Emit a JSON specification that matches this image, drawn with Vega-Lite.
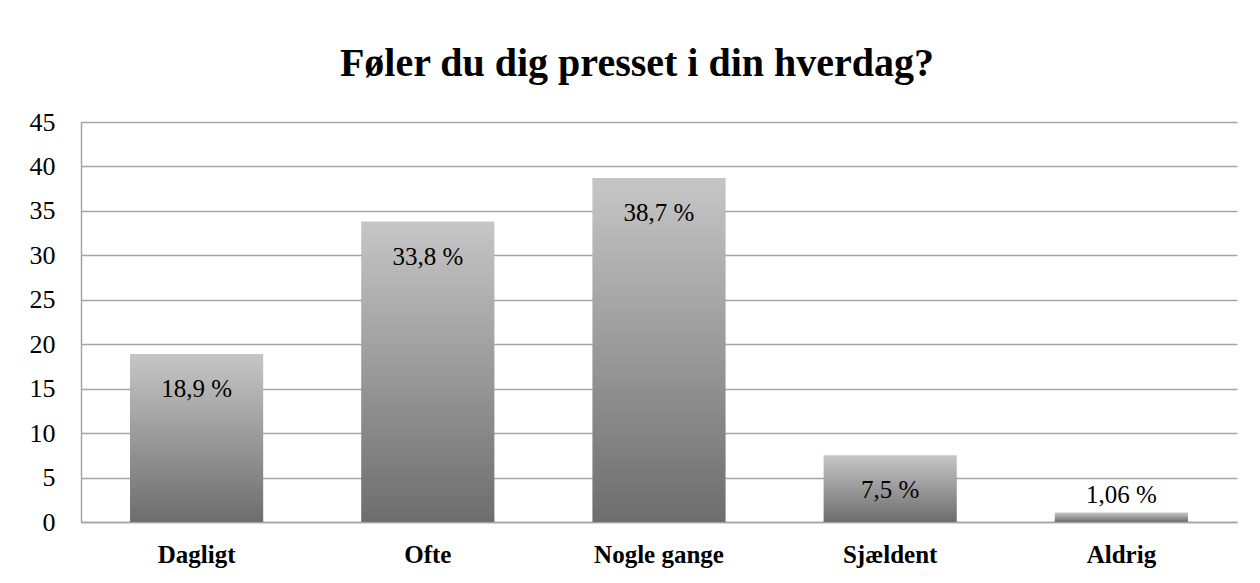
{
  "$schema": "https://vega.github.io/schema/vega-lite/v6.json",
  "width": 1156,
  "height": 400,
  "autosize": {"type": "none"},
  "padding": {"left": 81, "top": 122, "right": 23, "bottom": 61},
  "background": "white",
  "title": {
    "text": "Føler du dig presset i din hverdag?",
    "font": "Liberation Serif",
    "fontSize": 40,
    "fontWeight": "bold",
    "color": "#000000",
    "anchor": "middle",
    "frame": "group",
    "baseline": "alphabetic",
    "offset": 45,
    "dx": -22,
    "dy": 52
  },
  "data": {
    "values": [
      {"svar": "Dagligt", "pct": 18.9, "label": "18,9 %"},
      {"svar": "Ofte", "pct": 33.8, "label": "33,8 %"},
      {"svar": "Nogle gange", "pct": 38.7, "label": "38,7 %"},
      {"svar": "Sjældent", "pct": 7.5, "label": "7,5 %"},
      {"svar": "Aldrig", "pct": 1.06, "label": "1,06 %"}
    ]
  },
  "encoding": {
    "x": {
      "field": "svar",
      "type": "nominal",
      "sort": null,
      "scale": {"paddingInner": 0.424, "paddingOuter": 0.212},
      "axis": {
        "title": null,
        "labelAngle": 0,
        "labelFont": "Liberation Serif",
        "labelFontSize": 25,
        "labelFontWeight": "bold",
        "labelColor": "#000000",
        "labelPadding": 20,
        "ticks": false,
        "domain": true,
        "domainColor": "#a5a5a5",
        "domainWidth": 1.5
      }
    },
    "y": {
      "field": "pct",
      "type": "quantitative",
      "scale": {"domain": [0, 45], "nice": false},
      "axis": {
        "title": null,
        "values": [0, 5, 10, 15, 20, 25, 30, 35, 40, 45],
        "labelFont": "Liberation Serif",
        "labelFontSize": 26,
        "labelColor": "#000000",
        "labelPadding": 26,
        "ticks": false,
        "domain": true,
        "domainColor": "#a5a5a5",
        "domainWidth": 1.5,
        "grid": true,
        "gridColor": "#a5a5a5",
        "gridWidth": 1.5
      }
    }
  },
  "layer": [
    {
      "mark": {
        "type": "bar",
        "color": {
          "gradient": "linear",
          "x1": 0, "y1": 0, "x2": 0, "y2": 1,
          "stops": [
            {"offset": 0, "color": "#c6c6c6"},
            {"offset": 1, "color": "#6d6d6d"}
          ]
        }
      }
    },
    {
      "transform": [{"filter": "datum.pct > 5"}],
      "mark": {
        "type": "text",
        "font": "Liberation Serif",
        "fontSize": 25,
        "color": "#000000",
        "baseline": "middle",
        "dy": 35
      },
      "encoding": {"text": {"field": "label"}}
    },
    {
      "transform": [{"filter": "datum.pct <= 5"}],
      "mark": {
        "type": "text",
        "font": "Liberation Serif",
        "fontSize": 25,
        "color": "#000000",
        "baseline": "middle",
        "dy": -18
      },
      "encoding": {"text": {"field": "label"}}
    }
  ],
  "config": {"view": {"stroke": null}}
}
